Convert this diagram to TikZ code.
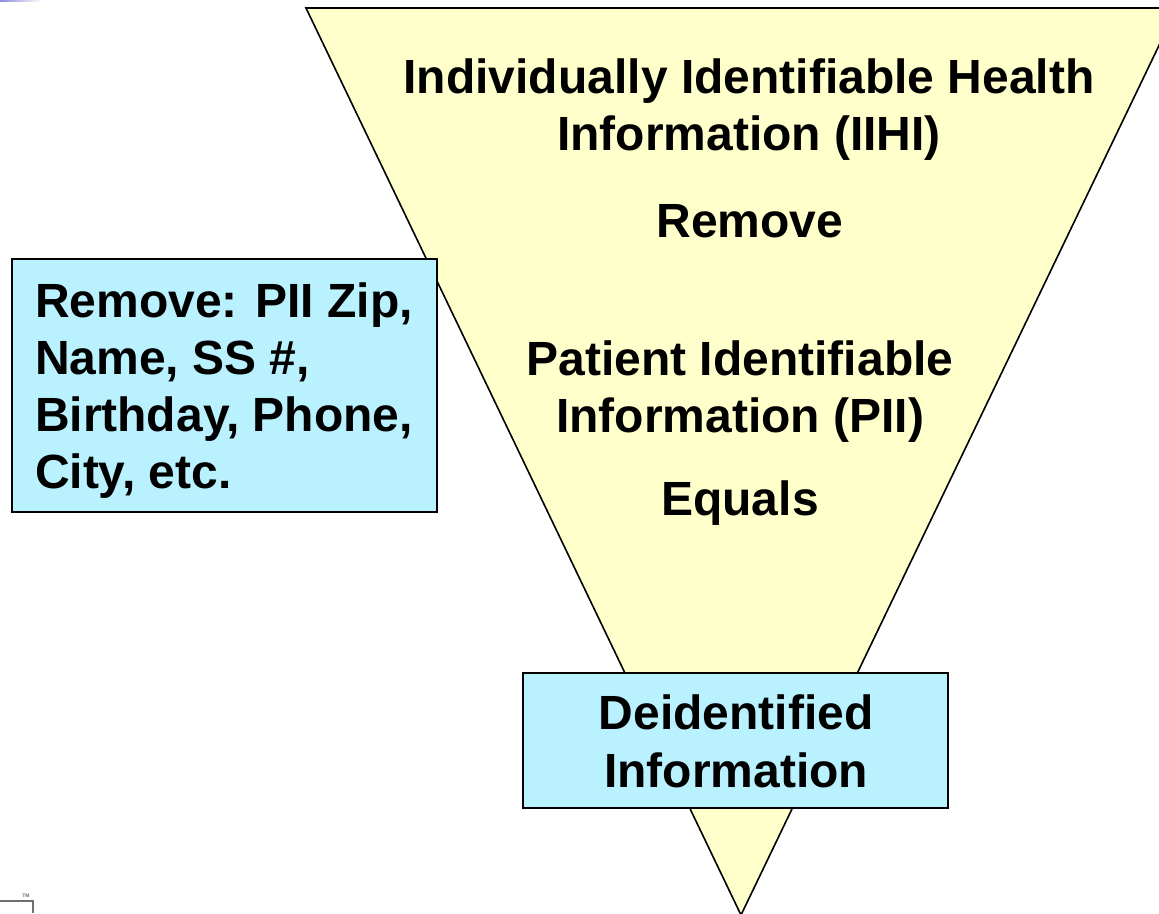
\documentclass[tikz,border=0pt]{standalone}
\usepackage{fontspec}
\setmainfont{Liberation Sans}
\begin{document}
\begin{tikzpicture}[x=1pt,y=-1pt,
  every node/.style={inner sep=0pt, outer sep=0pt},
  txt/.style={font=\fontsize{48}{57}\selectfont\bfseries, text=black},
  cbox/.style={draw=black, line width=1.5pt, fill=cyanfill},
  funnel/.style={fill=funnelfill, draw=black, line width=1.6pt, line join=miter}]
\definecolor{cyanfill}{HTML}{B9F1FE}
\definecolor{funnelfill}{HTML}{FFFFCC}
\definecolor{markgray}{HTML}{707070}
\definecolor{bandblue}{HTML}{8C8CDC}
\useasboundingbox (0,0) rectangle (1159,913);

% funnel (inverted triangle) running off the right and bottom edges
\coordinate (tl) at (306,8);
\coordinate (tr) at (1177,8);
\coordinate (apex) at (741,915);
\begin{scope}
  \clip (0,0) rectangle (1159,913);
  \path[funnel] (tl) -- (tr) -- (apex) -- cycle;
\end{scope}

% funnel captions
\node[txt, anchor=base] (iihi1) at (749,93) {Individually Identifiable Health};
\node[txt, anchor=base] (iihi2) at (749,150) {Information (IIHI)};
\node[txt, anchor=base] (rem)   at (750,237) {Remove};
\node[txt, anchor=base] (pii1)  at (740,375) {Patient Identifiable};
\node[txt, anchor=base] (pii2)  at (740,432) {Information (PII)};
\node[txt, anchor=base] (eq)    at (740,515) {Equals};

% list of removed fields
\node[cbox, anchor=north west, minimum width=425, minimum height=253] (list) at (12,259) {};
\node[txt, anchor=base west] (l1) at (35,317) {Remove: PII Zip,};
\node[txt, anchor=base west] (l2) at (35,374) {Name, SS \#,};
\node[txt, anchor=base west] (l3) at (35,431) {Birthday, Phone,};
\node[txt, anchor=base west] (l4) at (35,488) {City, etc.};

% result box at the narrow end
\node[cbox, anchor=north west, minimum width=425, minimum height=135] (deid) at (523,673) {};
\node[txt, anchor=base] (d1) at (736,729) {Deidentified};
\node[txt, anchor=base] (d2) at (736,787) {Information};

% page marks
\fill[left color=bandblue, right color=white] (0,0) rectangle (42,1.5);
\draw[markgray, line width=1.5pt] (0,901) -- (33,901) -- (33,913);
\node[text=markgray, font=\fontsize{5}{5}\selectfont\bfseries, anchor=base] (tm) at (26,897) {TM};
\end{tikzpicture}
\end{document}
